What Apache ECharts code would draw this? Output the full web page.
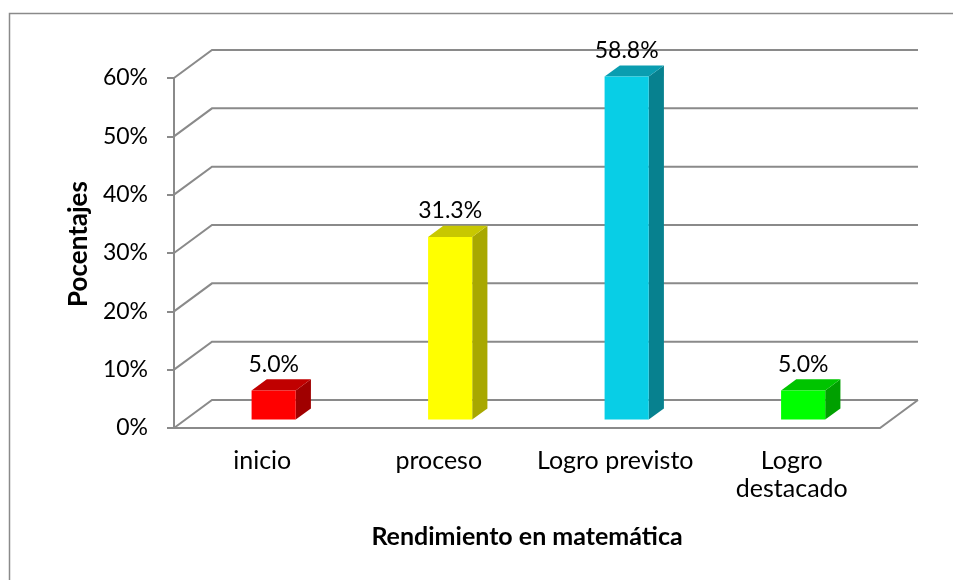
<!DOCTYPE html>
<html>
<head>
    <meta charset="UTF-8">
    <title>Rendimiento en matemática</title>
    <script src="https://cdn.jsdelivr.net/npm/echarts@6/dist/echarts.min.js"></script>
</head>
<body style="margin:0;background:#fff">
    <div id="main" style="width:953px;height:580px;"></div>
    <script type="text/javascript">
        var categorias = ['inicio', 'proceso', 'Logro previsto', 'Logro\ndestacado'];
        var porcentajes = [0.05, 0.313, 0.588, 0.05];
        var ticks = [0, 0.1, 0.2, 0.3, 0.4, 0.5, 0.6];
        var caras = [
            ['#ff0000', '#c00000', '#a00000'],
            ['#ffff00', '#c8c800', '#a8a800'],
            ['#08cee6', '#0a9db0', '#07818f'],
            ['#00ff00', '#00c400', '#00a000']
        ];
        var fuente = 'Lato';
        var gris = '#8a8a8a';
        // profundidad del "3D" (pared del fondo)
        var dx = 38, dy = -28;

        var myChart = echarts.init(document.getElementById('main'));

        var option = {
            backgroundColor: '#fff',
            animation: false,
            graphic: [{
                type: 'rect',
                shape: { x: 9.5, y: 13.5, width: 1000, height: 700 },
                style: { fill: 'none', stroke: gris, lineWidth: 1.5 },
                silent: true
            }],
            grid: { left: 174, right: 73, top: 78, bottom: 152 },
            xAxis: {
                type: 'category',
                data: categorias,
                axisLine: { show: false },
                axisTick: { show: false },
                axisLabel: {
                    interval: 0, hideOverlap: false,
                    margin: 19, color: '#000', fontFamily: fuente, fontSize: 25, lineHeight: 28,
                    verticalAlign: 'top'
                },
                name: 'Rendimiento en matemática',
                nameLocation: 'middle',
                nameGap: 96,
                nameTextStyle: { color: '#000', fontFamily: fuente, fontSize: 25, fontWeight: 'bold' }
            },
            yAxis: {
                type: 'value',
                min: 0, max: 0.6, interval: 0.1,
                axisLine: { show: false },
                axisTick: { show: true, length: 7, lineStyle: { color: gris, width: 2 } },
                splitLine: { show: false },
                axisLabel: {
                    margin: 26, color: '#000', fontFamily: fuente, fontSize: 23,
                    formatter: function (v) { return Math.round(v * 100) + '%'; }
                },
                name: 'Pocentajes',
                nameLocation: 'middle',
                nameGap: 82,
                nameRotate: 90,
                nameTextStyle: {
                    color: '#000', fontFamily: fuente, fontSize: 26, fontWeight: 'bold',
                    padding: [0, 0, 0, 18]
                }
            },
            series: [
                {
                    // lineas de la pared, del piso y eje vertical
                    type: 'custom',
                    silent: true,
                    z: 1,
                    data: ticks.map(function (t) { return [0, t]; }),
                    encode: { x: 0, y: 1 },
                    clip: false,
                    renderItem: function (params, api) {
                        var cs = params.coordSys;
                        var t = api.value(1);
                        var y = api.coord([0, t])[1];
                        var x0 = cs.x, x1 = cs.x + cs.width;
                        var hijos = [{
                            type: 'polyline',
                            shape: { points: [[x0, y], [x0 + dx, y + dy], [x1 + dx, y + dy]] },
                            style: { stroke: gris, lineWidth: 2, fill: null }
                        }];
                        if (t === 0) {
                            hijos.push({
                                type: 'polyline',
                                shape: { points: [[x0, y], [x1, y], [x1 + dx, y + dy]] },
                                style: { stroke: gris, lineWidth: 2, fill: null }
                            });
                            hijos.push({
                                type: 'line',
                                shape: { x1: x0, y1: y, x2: x0, y2: cs.y },
                                style: { stroke: gris, lineWidth: 2 }
                            });
                        }
                        return { type: 'group', children: hijos };
                    }
                },
                {
                    type: 'custom',
                    z: 3,
                    clip: false,
                    data: porcentajes.map(function (v, i) { return [i, v]; }),
                    encode: { x: 0, y: 1 },
                    renderItem: function (params, api) {
                        var i = api.value(0), v = api.value(1);
                        var base = api.coord([i, 0]);
                        var top = api.coord([i, v]);
                        var w = api.size([1, 0])[0] * 0.25;
                        var fx = base[0] - w / 2 + dx * 0.3;
                        var fb = base[1] + dy * 0.3;
                        var ft = top[1] + dy * 0.3;
                        var ox = dx * 0.4, oy = dy * 0.4;
                        var c = caras[i];
                        return {
                            type: 'group',
                            children: [
                                {
                                    type: 'polygon',
                                    shape: { points: [[fx + w, fb], [fx + w + ox, fb + oy], [fx + w + ox, ft + oy], [fx + w, ft]] },
                                    style: { fill: c[2] }
                                },
                                {
                                    type: 'polygon',
                                    shape: { points: [[fx, ft], [fx + ox, ft + oy], [fx + w + ox, ft + oy], [fx + w, ft]] },
                                    style: { fill: c[1] }
                                },
                                {
                                    type: 'rect',
                                    shape: { x: fx, y: ft, width: w, height: fb - ft },
                                    style: { fill: c[0] }
                                },
                                {
                                    type: 'text',
                                    x: fx + w / 2,
                                    y: ft + oy - 15,
                                    style: {
                                        text: (v * 100).toFixed(1) + '%',
                                        fill: '#000',
                                        font: '23px ' + fuente,
                                        align: 'center',
                                        verticalAlign: 'middle'
                                    }
                                }
                            ]
                        };
                    }
                }
            ]
        };
        myChart.setOption(option);
    </script>
</body>
</html>
